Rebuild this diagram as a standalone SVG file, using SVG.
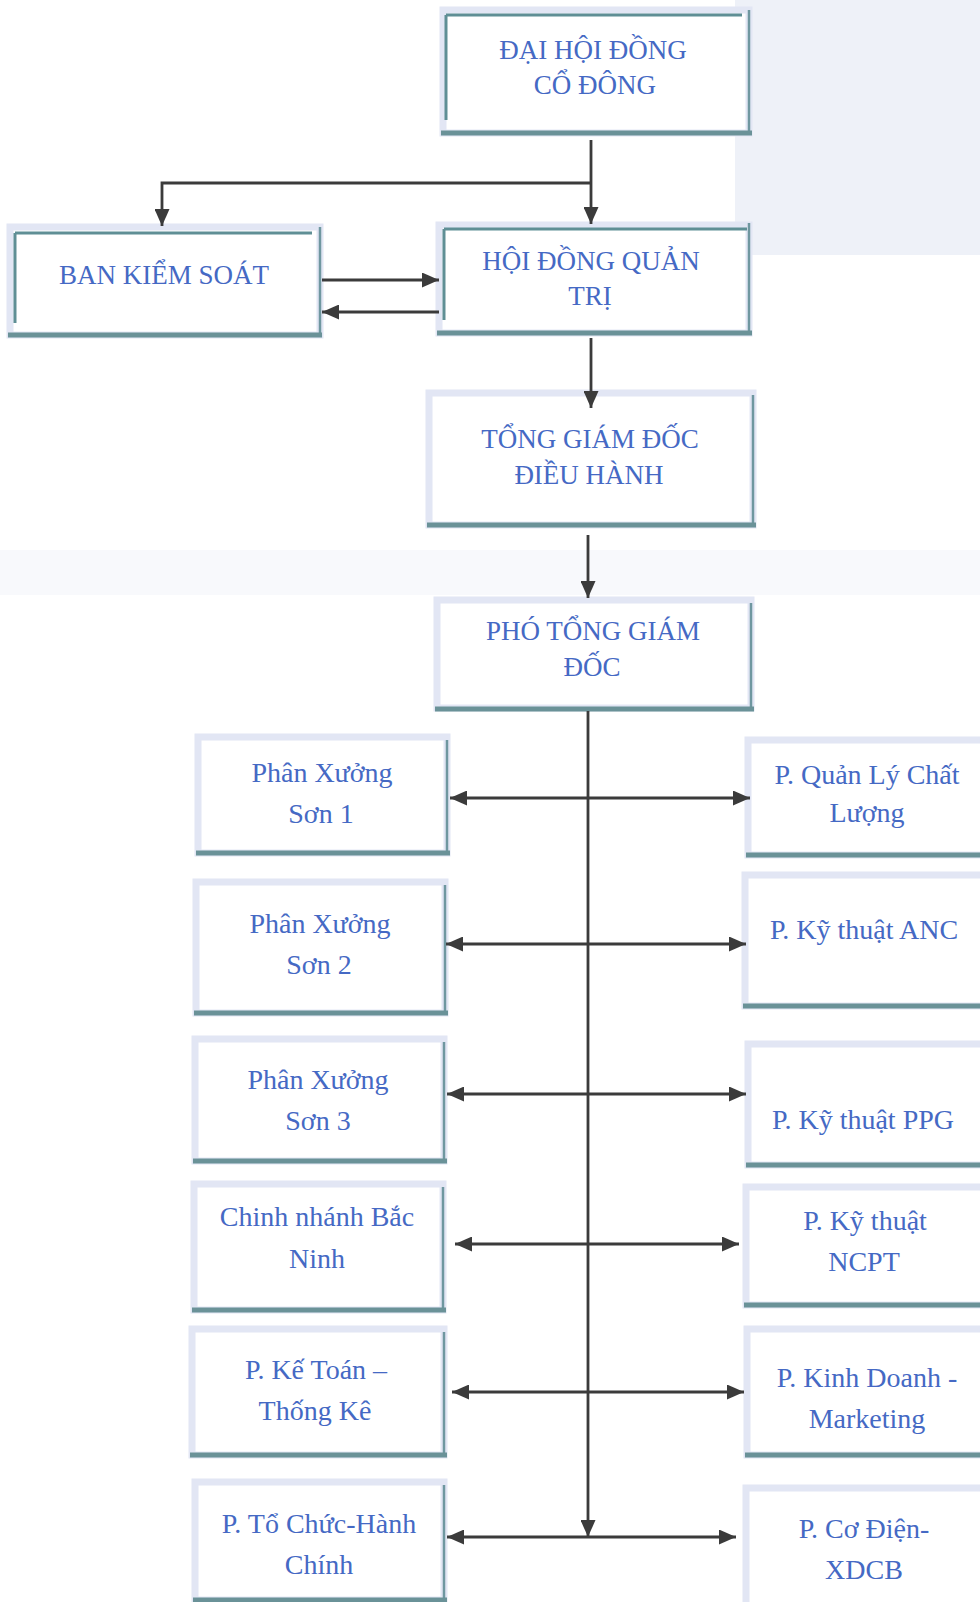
<svg xmlns="http://www.w3.org/2000/svg" width="980" height="1602" viewBox="0 0 980 1602">
<defs>
<style>
.band{fill:#ffffff;stroke:#e2e6f4;stroke-width:7}
.rl{stroke:#6f97a0;stroke-width:2.5}
.bl{stroke:#6a9298;stroke-width:5}
.tl{stroke:#5f8f95;stroke-width:3}
.t{font-family:"Liberation Serif","Times New Roman",serif;fill:#4569c4;text-anchor:middle}
.cap{font-size:27px}
.low{font-size:28px}
.c{stroke:#3b3b3b;stroke-width:2.8;fill:none}
</style>
<marker id="ah" markerUnits="userSpaceOnUse" markerWidth="17" markerHeight="15" refX="17" refY="7.5" orient="auto-start-reverse">
<path d="M0,0 L17,7.5 L0,15 Z" fill="#3b3b3b"/>
</marker>
</defs>
<rect x="0" y="0" width="980" height="1602" fill="#ffffff"/>
<rect x="735" y="0" width="245" height="255" fill="#eef1f8"/>
<rect x="0" y="550" width="980" height="45" fill="#f8f9fc"/>

<g id="dhdcd">
<rect class="band" x="443" y="10" width="306" height="123"/>
<line class="tl" x1="446" y1="15" x2="742" y2="15"/>
<line class="tl" x1="446" y1="15" x2="446" y2="120"/>
<line class="rl" x1="749" y1="10" x2="749" y2="133"/>
<line class="bl" x1="441" y1="133" x2="752" y2="133"/>
<text class="t cap" x="593" y="59">ĐẠI HỘI ĐỒNG</text>
<text class="t cap" x="595" y="94">CỔ ĐÔNG</text>
</g>

<g id="bks">
<rect class="band" x="10" y="227" width="310" height="108"/>
<line class="tl" x1="15" y1="233" x2="312" y2="233"/>
<line class="tl" x1="15" y1="233" x2="15" y2="323"/>
<line class="rl" x1="320" y1="227" x2="320" y2="335"/>
<line class="bl" x1="8" y1="335" x2="322" y2="335"/>
<text class="t cap" x="164" y="284">BAN KIỂM SOÁT</text>
</g>

<g id="hdqt">
<rect class="band" x="439" y="225" width="310" height="108"/>
<line class="tl" x1="444" y1="229" x2="747" y2="229"/>
<line class="tl" x1="444" y1="229" x2="444" y2="320"/>
<line class="rl" x1="749" y1="223" x2="749" y2="333"/>
<line class="bl" x1="437" y1="333" x2="752" y2="333"/>
<text class="t cap" x="591" y="270">HỘI ĐỒNG QUẢN</text>
<text class="t cap" x="590" y="305">TRỊ</text>
</g>

<g id="tgd">
<rect class="band" x="429" y="393" width="324" height="132"/>
<line class="rl" x1="753" y1="395" x2="753" y2="525"/>
<line class="bl" x1="427" y1="525" x2="756" y2="525"/>
<text class="t cap" x="590" y="448">TỔNG GIÁM ĐỐC</text>
<text class="t cap" x="589" y="484">ĐIỀU HÀNH</text>
</g>

<g id="ptgd">
<rect class="band" x="437" y="600" width="314" height="108"/>
<line class="rl" x1="751" y1="603" x2="751" y2="708"/>
<line class="bl" x1="435" y1="709" x2="754" y2="709"/>
<text class="t cap" x="593" y="640">PHÓ TỔNG GIÁM</text>
<text class="t cap" x="592" y="676">ĐỐC</text>
</g>

<g id="px1">
<rect class="band" x="198" y="737" width="249" height="116"/>
<line class="rl" x1="447" y1="740" x2="447" y2="853"/>
<line class="bl" x1="196" y1="853" x2="450" y2="853"/>
<text class="t low" x="322" y="782">Phân Xưởng</text>
<text class="t low" x="321" y="823">Sơn 1</text>
</g>

<g id="px2">
<rect class="band" x="196" y="882" width="249" height="131"/>
<line class="rl" x1="445" y1="885" x2="445" y2="1013"/>
<line class="bl" x1="194" y1="1013" x2="448" y2="1013"/>
<text class="t low" x="320" y="933">Phân Xưởng</text>
<text class="t low" x="319" y="974">Sơn 2</text>
</g>

<g id="px3">
<rect class="band" x="195" y="1039" width="249" height="122"/>
<line class="rl" x1="444" y1="1042" x2="444" y2="1161"/>
<line class="bl" x1="193" y1="1161" x2="447" y2="1161"/>
<text class="t low" x="318" y="1089">Phân Xưởng</text>
<text class="t low" x="318" y="1130">Sơn 3</text>
</g>

<g id="bacninh">
<rect class="band" x="194" y="1184" width="249" height="126"/>
<line class="rl" x1="443" y1="1187" x2="443" y2="1310"/>
<line class="bl" x1="192" y1="1310" x2="446" y2="1310"/>
<text class="t low" x="317" y="1226">Chinh nhánh Bắc</text>
<text class="t low" x="317" y="1268">Ninh</text>
</g>

<g id="ketoan">
<rect class="band" x="192" y="1329" width="252" height="126"/>
<line class="rl" x1="444" y1="1332" x2="444" y2="1455"/>
<line class="bl" x1="190" y1="1455" x2="447" y2="1455"/>
<text class="t low" x="316" y="1379">P. Kế Toán –</text>
<text class="t low" x="315" y="1420">Thống Kê</text>
</g>

<g id="tochuc">
<rect class="band" x="195" y="1482" width="249" height="118"/>
<line class="rl" x1="444" y1="1485" x2="444" y2="1600"/>
<line class="bl" x1="193" y1="1600" x2="447" y2="1600"/>
<text class="t low" x="319" y="1533">P. Tổ Chức-Hành</text>
<text class="t low" x="319" y="1574">Chính</text>
</g>

<g id="qlcl">
<rect class="band" x="748" y="740" width="240" height="115"/>
<line class="bl" x1="746" y1="855" x2="980" y2="855"/>
<text class="t low" x="867" y="784">P. Quản Lý Chất</text>
<text class="t low" x="867" y="822">Lượng</text>
</g>

<g id="anc">
<rect class="band" x="745" y="875" width="240" height="131"/>
<line class="bl" x1="743" y1="1006" x2="980" y2="1006"/>
<text class="t low" x="864" y="939">P. Kỹ thuật ANC</text>
</g>

<g id="ppg">
<rect class="band" x="748" y="1044" width="240" height="121"/>
<line class="bl" x1="746" y1="1165" x2="980" y2="1165"/>
<text class="t low" x="863" y="1129">P. Kỹ thuật PPG</text>
</g>

<g id="ncpt">
<rect class="band" x="746" y="1187" width="240" height="118"/>
<line class="bl" x1="744" y1="1305" x2="980" y2="1305"/>
<text class="t low" x="865" y="1230">P. Kỹ thuật</text>
<text class="t low" x="864" y="1271">NCPT</text>
</g>

<g id="kinhdoanh">
<rect class="band" x="747" y="1329" width="240" height="126"/>
<line class="bl" x1="745" y1="1455" x2="980" y2="1455"/>
<text class="t low" x="867" y="1387">P. Kinh Doanh -</text>
<text class="t low" x="867" y="1428">Marketing</text>
</g>

<g id="codien">
<rect class="band" x="746" y="1488" width="240" height="120"/>
<text class="t low" x="864" y="1538">P. Cơ Điện-</text>
<text class="t low" x="864" y="1579">XDCB</text>
</g>

<g id="connectors">
<line class="c" x1="591" y1="140" x2="591" y2="224" marker-end="url(#ah)"/>
<polyline class="c" points="591,183 162,183 162,226" marker-end="url(#ah)"/>
<line class="c" x1="322" y1="280" x2="439" y2="280" marker-end="url(#ah)"/>
<line class="c" x1="439" y1="312" x2="322" y2="312" marker-end="url(#ah)"/>
<line class="c" x1="591" y1="338" x2="591" y2="408" marker-end="url(#ah)"/>
<line class="c" x1="588" y1="535" x2="588" y2="598" marker-end="url(#ah)"/>
<line class="c" x1="588" y1="711" x2="588" y2="1537" marker-end="url(#ah)"/>
<line class="c" x1="450" y1="798" x2="750" y2="798" marker-start="url(#ah)" marker-end="url(#ah)"/>
<line class="c" x1="446" y1="944" x2="746" y2="944" marker-start="url(#ah)" marker-end="url(#ah)"/>
<line class="c" x1="447" y1="1094" x2="746" y2="1094" marker-start="url(#ah)" marker-end="url(#ah)"/>
<line class="c" x1="455" y1="1244" x2="739" y2="1244" marker-start="url(#ah)" marker-end="url(#ah)"/>
<line class="c" x1="452" y1="1392" x2="744" y2="1392" marker-start="url(#ah)" marker-end="url(#ah)"/>
<line class="c" x1="447" y1="1537" x2="736" y2="1537" marker-start="url(#ah)" marker-end="url(#ah)"/>
</g>
</svg>
